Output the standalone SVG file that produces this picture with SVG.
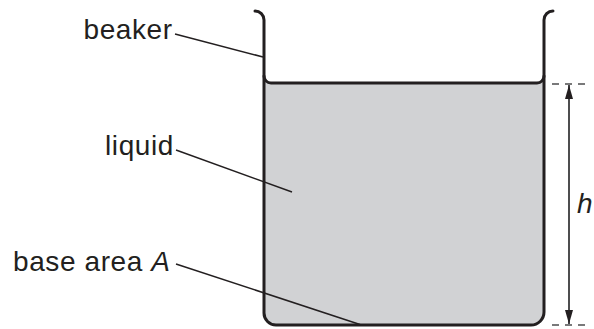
<svg xmlns="http://www.w3.org/2000/svg" width="594" height="329" viewBox="0 0 594 329">
  <style>
    .lbl { font-family: "Liberation Sans", Arial, sans-serif; font-size: 28px; letter-spacing: 0.6px; fill: #231f20; }
    .it { font-style: italic; }
    .wall { fill: none; stroke: #231f20; stroke-width: 3; stroke-linecap: round; stroke-linejoin: round; }
    .leader { fill: none; stroke: #231f20; stroke-width: 1.5; }
    .dash { fill: none; stroke: #4d4d4f; stroke-width: 1.5; stroke-dasharray: 7 6; }
    .dim { fill: none; stroke: #4d4d4f; stroke-width: 2; }
  </style>
  <defs>
    <marker id="arr" viewBox="0 0 14 8" refX="14" refY="4" markerWidth="14" markerHeight="8" markerUnits="userSpaceOnUse" orient="auto-start-reverse">
      <path d="M0,0 L14,4 L0,8 Z" fill="#231f20"/>
    </marker>
  </defs>
  <rect width="594" height="329" fill="#ffffff"/>

  <g id="liquid">
    <path d="M264,76 A7,7 0 0 0 271,83 L537,83 A7,7 0 0 0 544,76 L544,312 A13,13 0 0 1 531,325 L276,325 A12,12 0 0 1 264,313 Z" fill="#d1d2d4"/>
    <path class="wall" d="M264,76 A7,7 0 0 0 271,83 L537,83 A7,7 0 0 0 544,76"/>
  </g>

  <g id="beaker">
    <path class="wall" d="M255,11 A9,9 0 0 1 264,20 L264,313 A12,12 0 0 0 276,325 L531,325 A13,13 0 0 0 544,312 L544,20 A9,9 0 0 1 553,11"/>
  </g>

  <g id="labels">
    <text class="lbl" x="83.5" y="39">beaker</text>
    <text class="lbl" x="105" y="155">liquid</text>
    <text class="lbl" x="13" y="271">base area <tspan class="it">A</tspan></text>
    <text class="lbl it" x="577" y="213">h</text>
  </g>

  <g id="connectors">
    <line class="leader" x1="175" y1="34" x2="263" y2="57"/>
    <line class="leader" x1="176" y1="150" x2="292" y2="192"/>
    <line class="leader" x1="176" y1="264" x2="360" y2="324.5"/>
    <line class="dash" x1="552" y1="84" x2="586" y2="84"/>
    <line class="dash" x1="552" y1="325" x2="586" y2="325"/>
    <line class="dim" x1="569" y1="85" x2="569" y2="324" marker-start="url(#arr)" marker-end="url(#arr)"/>
  </g>
</svg>
